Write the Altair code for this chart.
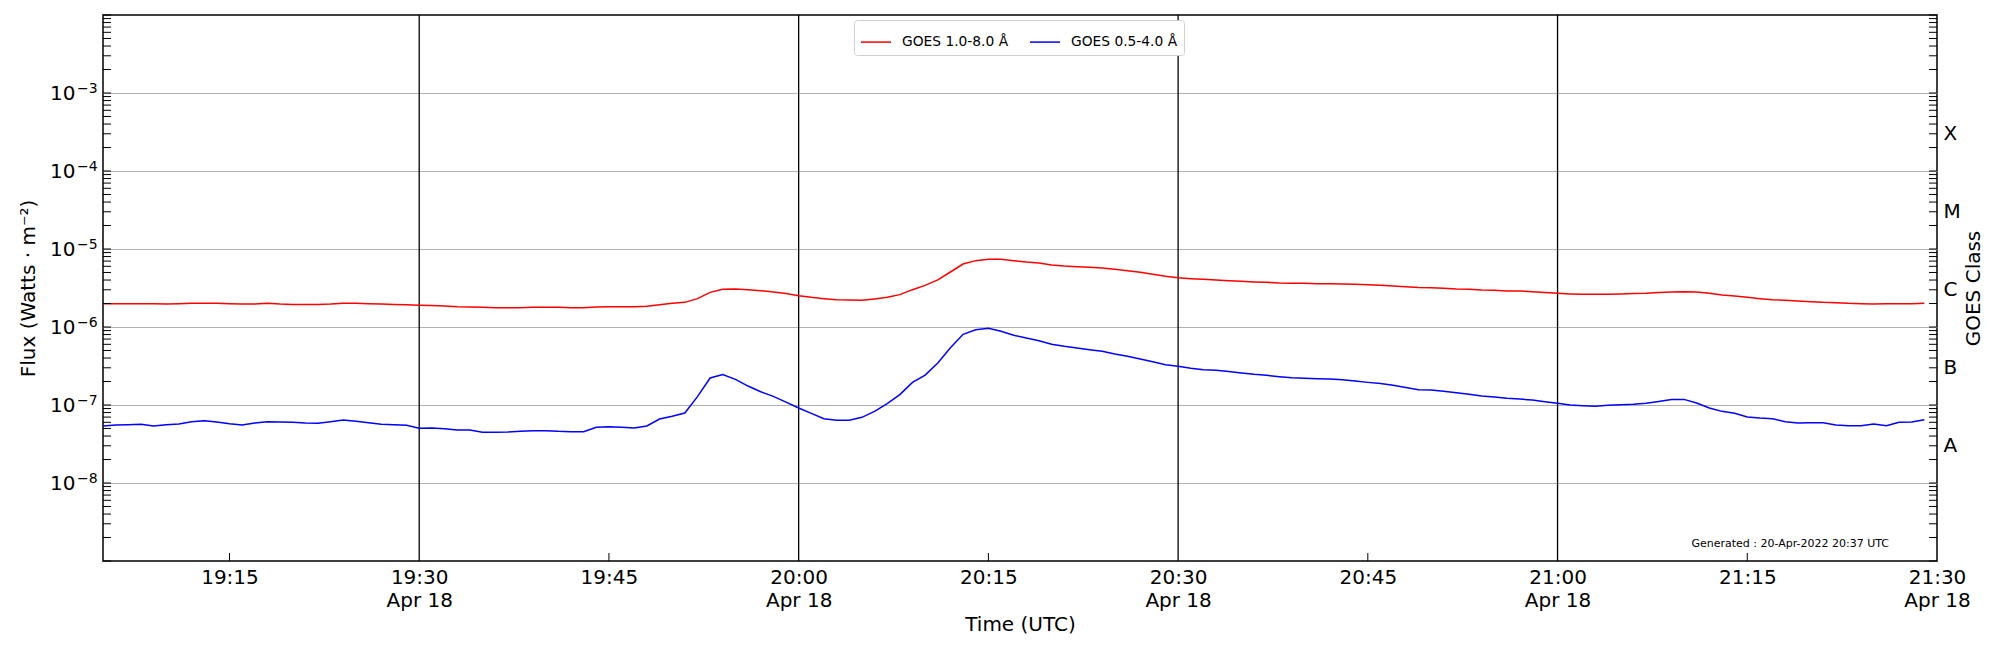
import altair as alt
import pandas as pd

# ---------------- data ----------------
start = pd.Timestamp("2022-04-18 19:05:00")
n_pts = 145
times = [(start + pd.Timedelta(minutes=i)).strftime("%Y-%m-%dT%H:%M:%SZ") for i in range(n_pts)]

red_flux = [
    1.99e-6, 1.99e-6, 1.99e-6, 1.99e-6, 1.99e-6, 1.97e-6, 1.99e-6, 2.01e-6, 2.01e-6, 2.01e-6,
    1.99e-6, 1.97e-6, 1.97e-6, 2.01e-6, 1.97e-6, 1.95e-6, 1.95e-6, 1.95e-6, 1.97e-6, 2.01e-6,
    2.01e-6, 1.99e-6, 1.97e-6, 1.95e-6, 1.93e-6, 1.90e-6, 1.88e-6, 1.86e-6, 1.82e-6, 1.80e-6,
    1.79e-6, 1.77e-6, 1.77e-6, 1.77e-6, 1.79e-6, 1.79e-6, 1.79e-6, 1.77e-6, 1.77e-6, 1.80e-6,
    1.82e-6, 1.82e-6, 1.82e-6, 1.84e-6, 1.93e-6, 2.01e-6, 2.07e-6, 2.31e-6, 2.78e-6, 3.04e-6,
    3.07e-6, 3.01e-6, 2.92e-6, 2.81e-6, 2.68e-6, 2.52e-6, 2.40e-6, 2.31e-6, 2.24e-6, 2.22e-6,
    2.20e-6, 2.29e-6, 2.40e-6, 2.60e-6, 3.01e-6, 3.42e-6, 4.01e-6, 5.07e-6, 6.42e-6, 7.09e-6,
    7.37e-6, 7.37e-6, 7.09e-6, 6.81e-6, 6.60e-6, 6.24e-6, 6.06e-6, 5.94e-6, 5.82e-6, 5.71e-6,
    5.49e-6, 5.27e-6, 5.02e-6, 4.73e-6, 4.46e-6, 4.29e-6, 4.17e-6, 4.08e-6, 4.01e-6, 3.93e-6,
    3.85e-6, 3.78e-6, 3.74e-6, 3.66e-6, 3.63e-6, 3.63e-6, 3.59e-6, 3.59e-6, 3.56e-6, 3.52e-6,
    3.49e-6, 3.42e-6, 3.35e-6, 3.29e-6, 3.22e-6, 3.19e-6, 3.13e-6, 3.07e-6, 3.04e-6, 2.98e-6,
    2.95e-6, 2.90e-6, 2.89e-6, 2.84e-6, 2.76e-6, 2.70e-6, 2.65e-6, 2.62e-6, 2.62e-6, 2.62e-6,
    2.65e-6, 2.68e-6, 2.70e-6, 2.76e-6, 2.81e-6, 2.84e-6, 2.81e-6, 2.70e-6, 2.57e-6, 2.50e-6,
    2.40e-6, 2.31e-6, 2.24e-6, 2.20e-6, 2.15e-6, 2.11e-6, 2.07e-6, 2.05e-6, 2.01e-6, 1.99e-6,
    1.97e-6, 1.99e-6, 1.99e-6, 1.99e-6, 2.01e-6,
]

blue_flux = [
    5.38e-8, 5.54e-8, 5.60e-8, 5.65e-8, 5.38e-8, 5.60e-8, 5.71e-8, 6.11e-8, 6.30e-8, 6.05e-8,
    5.76e-8, 5.54e-8, 5.87e-8, 6.11e-8, 6.05e-8, 5.99e-8, 5.87e-8, 5.82e-8, 6.11e-8, 6.42e-8,
    6.17e-8, 5.93e-8, 5.65e-8, 5.60e-8, 5.49e-8, 5.02e-8, 5.07e-8, 4.97e-8, 4.78e-8, 4.78e-8,
    4.46e-8, 4.46e-8, 4.50e-8, 4.60e-8, 4.69e-8, 4.69e-8, 4.60e-8, 4.55e-8, 4.55e-8, 5.17e-8,
    5.27e-8, 5.17e-8, 5.07e-8, 5.38e-8, 6.62e-8, 7.16e-8, 7.90e-8, 1.28e-7, 2.22e-7, 2.45e-7,
    2.13e-7, 1.75e-7, 1.48e-7, 1.29e-7, 1.09e-7, 9.15e-8, 7.82e-8, 6.68e-8, 6.36e-8, 6.36e-8,
    6.95e-8, 8.29e-8, 1.04e-7, 1.36e-7, 1.95e-7, 2.42e-7, 3.45e-7, 5.43e-7, 8.05e-7, 9.24e-7,
    9.61e-7, 8.80e-7, 7.82e-7, 7.23e-7, 6.68e-7, 6.00e-7, 5.65e-7, 5.38e-7, 5.12e-7, 4.88e-7,
    4.51e-7, 4.21e-7, 3.89e-7, 3.59e-7, 3.29e-7, 3.13e-7, 2.95e-7, 2.84e-7, 2.78e-7, 2.68e-7,
    2.57e-7, 2.47e-7, 2.40e-7, 2.31e-7, 2.24e-7, 2.20e-7, 2.17e-7, 2.15e-7, 2.11e-7, 2.03e-7,
    1.95e-7, 1.88e-7, 1.79e-7, 1.68e-7, 1.57e-7, 1.56e-7, 1.50e-7, 1.44e-7, 1.37e-7, 1.30e-7,
    1.27e-7, 1.22e-7, 1.19e-7, 1.16e-7, 1.10e-7, 1.05e-7, 1.00e-7, 9.81e-8, 9.61e-8, 9.90e-8,
    1.01e-7, 1.02e-7, 1.05e-7, 1.11e-7, 1.18e-7, 1.18e-7, 1.06e-7, 9.15e-8, 8.29e-8, 7.82e-8,
    7.02e-8, 6.81e-8, 6.68e-8, 6.11e-8, 5.87e-8, 5.93e-8, 5.93e-8, 5.54e-8, 5.43e-8, 5.43e-8,
    5.71e-8, 5.43e-8, 5.99e-8, 6.05e-8, 6.48e-8,
]

series_names = ["GOES 1.0-8.0 Å", "GOES 0.5-4.0 Å"]
series_colors = ["red", "blue"]

half_hour_lines = ["2022-04-18T19:30:00Z", "2022-04-18T20:00:00Z",
                   "2022-04-18T20:30:00Z", "2022-04-18T21:00:00Z"]
x_minor_ticks = ["2022-04-18T19:15:00Z", "2022-04-18T19:45:00Z", "2022-04-18T20:15:00Z",
                 "2022-04-18T20:45:00Z", "2022-04-18T21:15:00Z"]
x_label_times = [(19, 15), (19, 30), (19, 45), (20, 0), (20, 15), (20, 30),
                 (20, 45), (21, 0), (21, 15), (21, 30)]

decades = [1e-9, 1e-8, 1e-7, 1e-6, 1e-5, 1e-4, 1e-3, 1e-2]
labeled_decades = [1e-8, 1e-7, 1e-6, 1e-5, 1e-4, 1e-3]
exponent_text = ["−8", "−7", "−6", "−5", "−4", "−3"]
minor_mult = [2, 3, 4, 5, 6, 7, 8, 9]
class_letters = ["A", "B", "C", "M", "X"]
class_positions = [3e-8, 3e-7, 3e-6, 3e-5, 3e-4]
generated_note = "Generated : 20-Apr-2022 20:37 UTC"

# ---------------- tables ----------------
df = pd.DataFrame({
    "time": times * 2,
    "flux": red_flux + blue_flux,
    "series": [series_names[0]] * n_pts + [series_names[1]] * n_pts,
})
ytick_vals = decades + [m * d for d in decades[:-1] for m in minor_mult]
df_yticks = pd.DataFrame({"v": ytick_vals})
df_exp = pd.DataFrame({"v": labeled_decades, "t": exponent_text})
df_vlines = pd.DataFrame({"time": half_hour_lines})
df_xticks = pd.DataFrame({"time": x_minor_ticks})
df_class = pd.DataFrame({"v": class_positions})
df_note = pd.DataFrame({"t": [generated_note]})

W, H = 1834, 546
FONT = "DejaVu Sans"

xscale = alt.Scale(
    type="utc",
    domain=[alt.DateTime(year=2022, month=4, date=18, hours=19, minutes=5, utc=True),
            alt.DateTime(year=2022, month=4, date=18, hours=21, minutes=30, utc=True)],
)
yscale = alt.Scale(type="log", domain=[1e-9, 1e-2], nice=False)

x_axis = alt.Axis(
    values=[alt.DateTime(year=2022, month=4, date=18, hours=h, minutes=m, utc=True)
            for h, m in x_label_times],
    labelExpr="(utcminutes(datum.value) % 30 == 0) ? [utcFormat(datum.value, '%H:%M'), 'Apr 18'] : utcFormat(datum.value, '%H:%M')",
    tickSize=0, domain=False, grid=False,
    labelFont=FONT, labelFontSize=20, labelColor="black", labelPadding=6,
    labelLineHeight=23, labelBaseline="top", labelOverlap=False, labelFlush=False,
    title="Time (UTC)", titleFont=FONT, titleFontSize=20, titleFontWeight="normal",
    titleColor="black", titleX=W / 2, titleY=63, titleBaseline="middle", titleAlign="center",
)

y_axis_left = alt.Axis(
    values=labeled_decades, labelExpr="'10'",
    tickSize=0, domain=False, grid=True, gridColor="#b0b0b0", gridWidth=1,
    labelFont=FONT, labelFontSize=20, labelColor="black", labelPadding=28,
    title="Flux (Watts · m⁻²)", titleFont=FONT, titleFontSize=20, titleFontWeight="normal",
    titleColor="black", titleX=-75, titleY=H / 2, titleAngle=270,
    titleAlign="center", titleBaseline="middle",
)

class_expr = " : ".join(
    f"datum.value < {p * 2} ? '{c}'" for p, c in zip(class_positions, class_letters)
) + " : ''"
y_axis_right = alt.Axis(
    orient="right", values=class_positions, labelExpr=class_expr,
    tickSize=0, domain=False, grid=False,
    labelFont=FONT, labelFontSize=20, labelColor="black", labelPadding=6,
    title="GOES Class", titleFont=FONT, titleFontSize=20, titleFontWeight="normal",
    titleColor="black", titleX=36, titleY=H / 2, titleAngle=270,
    titleAlign="center", titleBaseline="middle",
)

vlines = alt.Chart(df_vlines).mark_rule(color="black", strokeWidth=1.3).encode(
    x=alt.X("time:T", scale=xscale, axis=x_axis),
)

lines = alt.Chart(df).mark_line(strokeWidth=1.5).encode(
    x=alt.X("time:T", scale=xscale, axis=None),
    y=alt.Y("flux:Q", scale=yscale, axis=y_axis_left),
    color=alt.Color(
        "series:N",
        scale=alt.Scale(domain=series_names, range=series_colors),
        legend=alt.Legend(
            orient="none", legendX=751, legendY=5, direction="horizontal", title=None,
            symbolType="stroke", symbolSize=900, symbolStrokeWidth=1.5,
            labelFont=FONT, labelFontSize=13.8, labelColor="black", labelOffset=10,
            strokeColor="#d0d0d0", fillColor="white", padding=6, cornerRadius=3,
            columnPadding=18,
        ),
    ),
    detail="series:N",
)

left_ticks = alt.Chart(df_yticks).mark_rule(color="black", strokeWidth=1).encode(
    y=alt.Y("v:Q", scale=yscale, axis=None),
    x=alt.value(0), x2=alt.value(8),
)
right_ticks = alt.Chart(df_yticks).mark_rule(color="black", strokeWidth=1).encode(
    y=alt.Y("v:Q", scale=yscale, axis=None),
    x=alt.value(W - 8), x2=alt.value(W),
)
right_class = alt.Chart(df_class).mark_point(opacity=0).encode(
    y=alt.Y("v:Q", scale=yscale, axis=y_axis_right),
    x=alt.value(W),
)
bottom_ticks = alt.Chart(df_xticks).mark_rule(color="black", strokeWidth=1).encode(
    x=alt.X("time:T", scale=xscale, axis=None),
    y=alt.value(H - 8), y2=alt.value(H),
)
exponents = alt.Chart(df_exp).mark_text(
    align="left", baseline="alphabetic", font=FONT, fontSize=14, color="black"
).encode(
    y=alt.Y("v:Q", scale=yscale, axis=None),
    x=alt.value(-26),
    text="t:N",
)
note = alt.Chart(df_note).mark_text(
    align="right", baseline="alphabetic", font=FONT, fontSize=11, color="black"
).encode(
    x=alt.value(1786), y=alt.value(532), text="t:N",
)

chart = alt.layer(
    vlines, lines, left_ticks, right_ticks, right_class, bottom_ticks, exponents, note
).resolve_axis(x="independent", y="independent").properties(
    width=W, height=H,
    autosize=alt.AutoSizeParams(type="none"),
    padding={"left": 95, "top": 7, "right": 55, "bottom": 81},
).configure(
    font=FONT,
    view=alt.ViewConfig(stroke="black", strokeWidth=1.5),
)

chart.save("out.html", embed_options={"renderer": "svg", "actions": False})
